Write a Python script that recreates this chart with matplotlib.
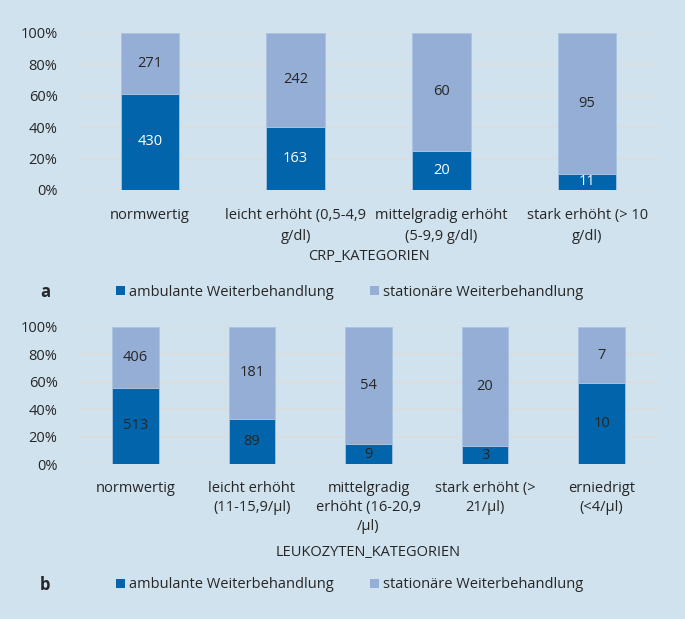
import matplotlib
matplotlib.use("Agg")
import matplotlib.pyplot as plt
from matplotlib.patches import Patch
import numpy as np

# ---- data ----
crp_categories = ["normwertig", "leicht erhöht (0,5-4,9\ng/dl)",
                  "mittelgradig erhöht\n(5-9,9 g/dl)", "stark erhöht (> 10\ng/dl)"]
crp_ambulant = [430, 163, 20, 11]
crp_stationaer = [271, 242, 60, 95]

leuko_categories = ["normwertig", "leicht erhöht\n(11-15,9/µl)",
                    "mittelgradig\nerhöht (16-20,9\n/µl)", "stark erhöht (>\n21/µl)",
                    "erniedrigt\n(<4/µl)"]
leuko_ambulant = [513, 89, 9, 3, 10]
leuko_stationaer = [406, 181, 54, 20, 7]

ytick_labels = ["0%", "20%", "40%", "60%", "80%", "100%"]
series_names = ["ambulante Weiterbehandlung", "stationäre Weiterbehandlung"]

# ---- style ----
BG = "#d0e2ee"
DARK = "#0265ab"
LIGHT = "#95aed6"
GRID = "#dcdcdc"
TXT = "#262626"
FAM = "Open Sans"
FS = 10.5

W, H = 685, 619
fig = plt.figure(figsize=(W / 100, H / 100), dpi=100)
fig.patch.set_facecolor(BG)


def px_axes(left, top, right, bottom):
    return fig.add_axes([left / W, 1 - bottom / H, (right - left) / W, (bottom - top) / H])


def panel(ax, cats, amb, sta, amb_txt_color, xlabel, xlabel_y, pad, ls):
    amb = np.array(amb, dtype=float)
    sta = np.array(sta, dtype=float)
    tot = amb + sta
    pa = amb / tot * 100
    ps = sta / tot * 100
    x = np.arange(len(cats))
    ax.set_facecolor(BG)
    for s in ax.spines.values():
        s.set_visible(False)
    ax.set_yticks(np.arange(0, 101, 20))
    ax.set_yticklabels(ytick_labels, fontfamily=FAM, fontsize=FS, color=TXT)
    ax.yaxis.grid(True, color=GRID, lw=1.2)
    ax.set_axisbelow(True)
    ax.tick_params(length=0)
    ax.tick_params(axis="x", pad=pad)
    ax.tick_params(axis="y", pad=14)
    b1 = ax.bar(x, pa, width=0.4, color=DARK, edgecolor="#a9c3e0", lw=0.6)
    b2 = ax.bar(x, ps, bottom=pa, width=0.4, color=LIGHT, edgecolor="#a9c3e0", lw=0.6)
    ax.bar_label(b1, labels=[str(int(v)) for v in amb], label_type="center",
                 color=amb_txt_color, fontfamily=FAM, fontsize=FS)
    ax.bar_label(b2, labels=[str(int(v)) for v in sta], label_type="center",
                 color=TXT, fontfamily=FAM, fontsize=FS)
    ax.set_xticks(x)
    ax.set_xticklabels(cats, fontfamily=FAM, fontsize=FS, color=TXT, linespacing=ls)
    ax.set_xlim(-0.5, len(cats) - 0.5)
    ax.set_ylim(0, 100)
    fig.text(368.5 / W, 1 - xlabel_y / H, xlabel, ha="center", va="center",
             fontfamily=FAM, fontsize=FS, color=TXT)


ax1 = px_axes(77, 33, 660, 190)
panel(ax1, crp_categories, crp_ambulant, crp_stationaer, "white",
      "CRP_KATEGORIEN", 257, 13, 1.5)

ax2 = px_axes(77, 327, 660, 464)
panel(ax2, leuko_categories, leuko_ambulant, leuko_stationaer, TXT,
      "LEUKOZYTEN_KATEGORIEN", 553, 12, 1.37)


def legend(y, letter):
    handles = [Patch(facecolor=DARK, edgecolor="none"), Patch(facecolor=LIGHT, edgecolor="none")]
    fig.legend(handles, series_names, loc="center left",
               bbox_to_anchor=(116 / W, 1 - y / H), ncol=2, frameon=False,
               borderpad=0, borderaxespad=0, handlelength=0.6, handleheight=0.6,
               handletextpad=0.3, columnspacing=2.5,
               prop={"family": FAM, "size": FS}, labelcolor=TXT)
    fig.text(45 / W, 1 - y / H, letter, ha="center", va="center",
             fontfamily=FAM, fontsize=12, fontweight="bold", color=TXT)


legend(292, "a")
legend(585, "b")

fig.savefig("out.png", dpi=100, facecolor=BG)
